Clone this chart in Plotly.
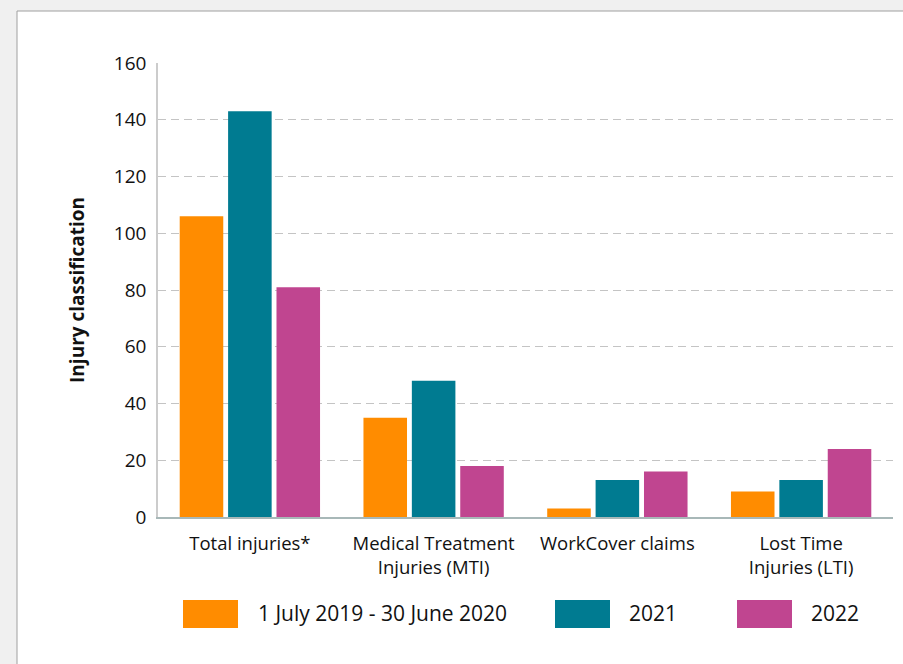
import plotly.graph_objects as go

categories = ["Total injuries*", "Medical Treatment<br>Injuries (MTI)", "WorkCover claims", "Lost Time<br>Injuries (LTI)"]
series_names = ["1 July 2019 - 30 June 2020", "2021", "2022"]
values_2020 = [106, 35, 3, 9]
values_2021 = [143, 48, 13, 13]
values_2022 = [81, 18, 16, 24]
colors = ["#FF8C00", "#007B91", "#C04590"]
y_ticks = [0, 20, 40, 60, 80, 100, 120, 140, 160]

FONT = "Open Sans"
W, H = 903, 664
ML, MR, MT, MB = 158, 10, 63, 147
PW = W - ML - MR
PH = H - MT - MB

def px_x(p):
    return (p - ML) / PW

def px_y(p):
    return (H - MB - p) / PH

fig = go.Figure()
for name, vals, col in zip(series_names, [values_2020, values_2021, values_2022], colors):
    fig.add_trace(go.Bar(x=categories, y=vals, name=name, marker=dict(color=col, line=dict(width=0)),
                         showlegend=False))

shapes = [
    dict(type="rect", xref="paper", yref="paper", x0=px_x(17), x1=px_x(912), y0=px_y(672), y1=px_y(11),
         fillcolor="white", line=dict(color="#a0a0a0", width=1), layer="below"),
]
annotations = []
legend_items = [(183, 256, series_names[0]), (555, 627, series_names[1]), (737, 809, series_names[2])]
for (sx, tx, label), col in zip(legend_items, colors):
    shapes.append(dict(type="rect", xref="paper", yref="paper", x0=px_x(sx), x1=px_x(sx + 55),
                       y0=px_y(628), y1=px_y(600), fillcolor=col, line=dict(width=0), layer="above"))
    annotations.append(dict(xref="paper", yref="paper", x=px_x(tx), y=px_y(613), text=label,
                            showarrow=False, xanchor="left", yanchor="middle",
                            font=dict(family=FONT, size=21, color="#111111")))

fig.update_layout(
    width=W, height=H,
    margin=dict(l=ML, r=MR, t=MT, b=MB, autoexpand=False),
    paper_bgcolor="#f0f0f0",
    plot_bgcolor="rgba(0,0,0,0)",
    barmode="group",
    bargap=0.21,
    bargroupgap=0.1,
    font=dict(family=FONT, size=18, color="#111111"),
    shapes=shapes,
    annotations=annotations,
    showlegend=False,
    xaxis=dict(showgrid=False, showline=True, linecolor="#a8b8b8", linewidth=1.5,
               ticks="outside", ticklen=9, tickcolor="rgba(0,0,0,0)",
               tickfont=dict(family=FONT, size=18.5, color="#111111"), fixedrange=True),
    yaxis=dict(range=[0, 160], tickvals=y_ticks, showgrid=True, gridcolor="#c4c4c4", griddash="8px,5px",
               gridwidth=1, showline=True, linecolor="#cccccc", linewidth=1.5, zeroline=False,
               ticks="outside", ticklen=6, tickcolor="rgba(0,0,0,0)",
               tickfont=dict(family=FONT, size=19, color="#111111"),
               title=dict(text="<b>Injury classification</b>", font=dict(family=FONT, size=19, color="#111111"),
                          standoff=24), fixedrange=True),
)

fig.write_html("out.html")
